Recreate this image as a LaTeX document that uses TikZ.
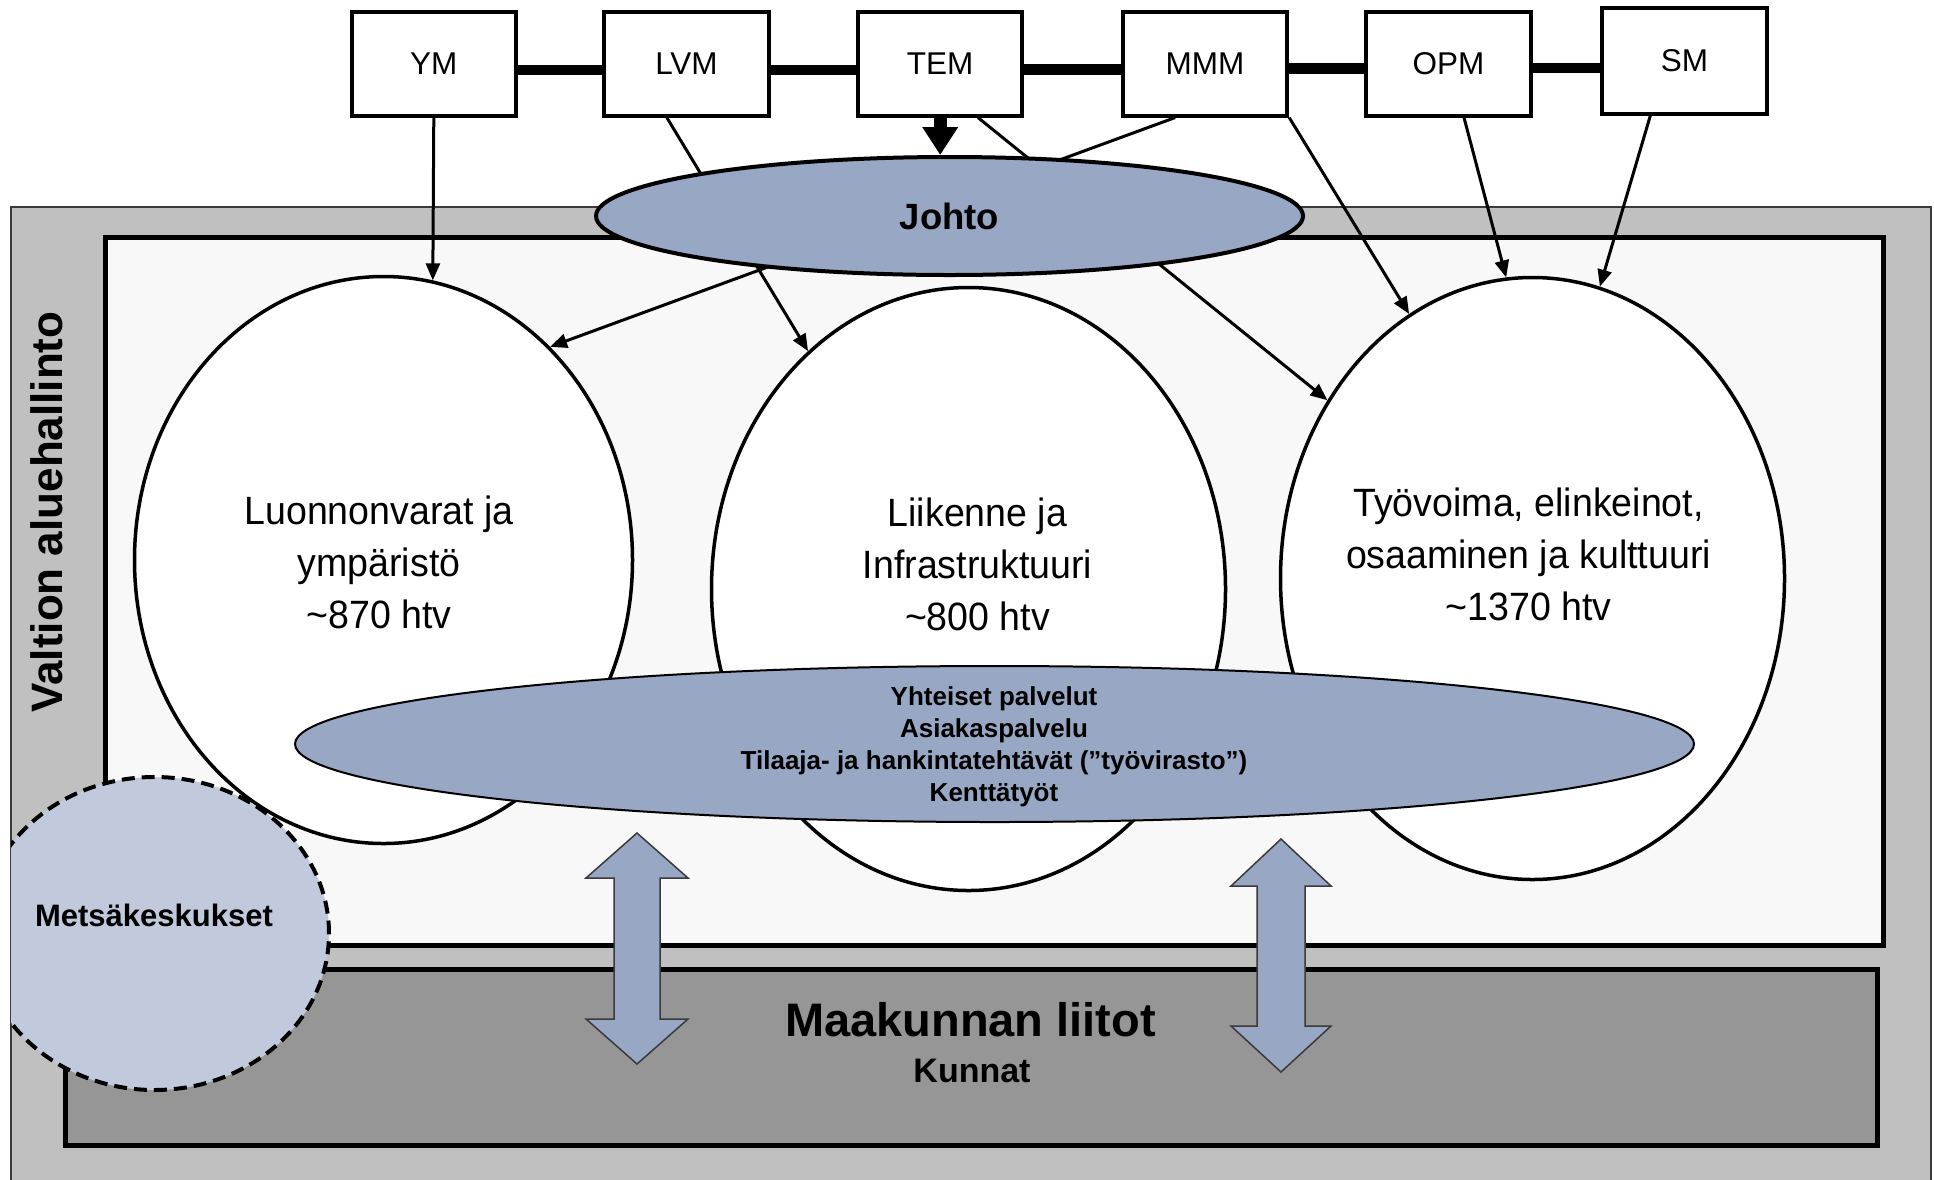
\documentclass[tikz,border=0pt]{standalone}
\usepackage{fontspec}
\setmainfont{Liberation Sans}
\newfontfamily\narrowfont{Liberation Sans}[FakeStretch=0.95]
\usetikzlibrary{shapes.geometric,arrows.meta,calc}
\definecolor{outergray}{HTML}{C0C0C0}
\definecolor{innerbg}{HTML}{F8F8F8}
\definecolor{darkgraybox}{HTML}{969696}
\definecolor{blueg}{HTML}{97A7C4}
\definecolor{lightblueg}{HTML}{C1CADC}
\definecolor{edgegray}{HTML}{3A3A3A}
\tikzset{
  minbox/.style={draw, line width=4pt, fill=white, minimum width=164.5pt, minimum height=104pt, inner sep=0pt, font=\fontsize{31.5}{36}\selectfont},
  bigell/.style={ellipse, draw, line width=3.5pt, fill=white, inner sep=0pt},
  blueell/.style={ellipse, draw, fill=blueg, inner sep=0pt},
  thinarr/.style={line width=3pt, -{Triangle[length=17pt,width=14pt]}},
  thickconn/.style={line width=10.5pt},
  ellt/.style={align=center, inner sep=0pt, font=\narrowfont\fontsize{39.5}{52}\selectfont},
  ytext/.style={align=center, inner sep=0pt, font=\bfseries\fontsize{26}{32}\selectfont},
  darr/.style={draw=edgegray, line width=1.5pt, fill=blueg, line join=miter}
}
\begin{document}
\begin{tikzpicture}[x=1pt,y=-1pt]
\useasboundingbox (0,0) rectangle (1934,1179);
% background areas
\draw[draw=edgegray, line width=1.5pt, fill=outergray] (11,207) rectangle (1931,1210);
\draw[line width=5pt, fill=innerbg] (105.5,237) rectangle (1883,945.5);
\draw[line width=5pt, fill=darkgraybox] (65.5,969) rectangle (1877,1145.5);
% ministry boxes
\node[minbox] (YM)  at (433.8,63.6) {YM};
\node[minbox] (LVM) at (686.5,63.6) {LVM};
\node[minbox] (TEM) at (940.2,63.6) {TEM};
\node[minbox] (MMM) at (1205,63.6) {MMM};
\node[minbox] (OPM) at (1448.5,63.6) {OPM};
\node[minbox, minimum height=105.5pt] (SM) at (1684.5,61) {SM};
\draw[thickconn] ([yshift=-6.5pt]YM.east) -- ([yshift=-6.5pt]LVM.west);
\draw[thickconn] ([yshift=-6.5pt]LVM.east) -- ([yshift=-6.5pt]TEM.west);
\draw[thickconn] ([yshift=-6pt]TEM.east) -- ([yshift=-6pt]MMM.west);
\draw[thickconn] ([yshift=-5pt]MMM.east) -- ([yshift=-5pt]OPM.west);
\draw[thickconn] ([yshift=-4.4pt]OPM.east) -- ([yshift=-7pt]SM.west);
% three main ellipses
\node[bigell, minimum width=498pt, minimum height=567pt] (L) at (383.5,560) {};
\node[bigell, minimum width=514pt, minimum height=603pt] (M) at (968.5,589) {};
\node[bigell, minimum width=504pt, minimum height=602pt] (R) at (1532.5,578.5) {};
% connectors from ministries
\draw[thinarr] (YM.south) -- (L.80);
\draw[thinarr] (LVM.-110) -- (M.124);
\draw[thinarr] (TEM.-55) -- (R.139);
\draw[thinarr] (MMM.-119) -- (L.52);
\draw[thinarr] (MMM.south east) -- (R.115);
\draw[thinarr] (OPM.-74) -- (R.95);
\draw[thinarr] (SM.-122) -- (R.77);
% Johto
\node[blueell, line width=4pt, minimum width=707pt, minimum height=118pt, font=\bfseries\fontsize{36.5}{40}\selectfont] (J) at (949.5,216) {Johto};
\draw[line width=13pt, -{Triangle[length=28pt,width=34pt]}] (TEM.south) -- (TEM.south |- J.north);
% Yhteiset palvelut
\node[blueell, line width=2pt, minimum width=1399pt, minimum height=156pt] (YP) at (994.5,744) {};
% double arrows
\draw[darr] (637,833) -- (688,878) -- (660,878) -- (660,1019) -- (688,1019) -- (637,1064) -- (586,1019) -- (614,1019) -- (614,878) -- (586,878) -- cycle;
\draw[darr] (1281,839) -- (1331,886) -- (1305,886) -- (1305,1026) -- (1331,1026) -- (1281,1072) -- (1231,1026) -- (1257,1026) -- (1257,886) -- (1231,886) -- cycle;
% Metsakeskukset
\begin{scope}
\clip (11,0) rectangle (1934,1179);
\node[ellipse, draw, dash pattern=on 13pt off 7pt, line width=4pt, fill=lightblueg, minimum width=349pt, minimum height=313pt, inner sep=0pt] (MK) at (154.5,933.5) {};
\end{scope}
% texts
\node[rotate=90, inner sep=0pt, font=\bfseries\fontsize{44}{50}\selectfont] (VAt) at (47,512) {Valtion aluehallinto};
\node[ellt] (Lt) at (379,562.8) {Luonnonvarat ja\\ympäristö\\\textasciitilde870 htv};
\node[ellt] (Mt) at (977.5,564.5) {Liikenne ja\\Infrastruktuuri\\\textasciitilde800 htv};
\node[ellt] (Rt) at (1528.5,554.5) {Työvoima, elinkeinot,\\osaaminen ja kulttuuri\\\textasciitilde1370 htv};
\node[ytext] (YPt) at (994,747.2) {Yhteiset palvelut\\Asiakaspalvelu\\Tilaaja- ja hankintatehtävät (”työvirasto”)\\Kenttätyöt};
\node[anchor=base, inner sep=0pt, font=\bfseries\fontsize{31}{36}\selectfont] (MKt) at (154,926) {Metsäkeskukset};
\node[anchor=base, inner sep=0pt, font=\bfseries\fontsize{47}{52}\selectfont] (MLt) at (970.5,1036) {Maakunnan liitot};
\node[anchor=base, inner sep=0pt, font=\bfseries\fontsize{34}{40}\selectfont] (Kt) at (972,1082) {Kunnat};
\end{tikzpicture}
\end{document}
